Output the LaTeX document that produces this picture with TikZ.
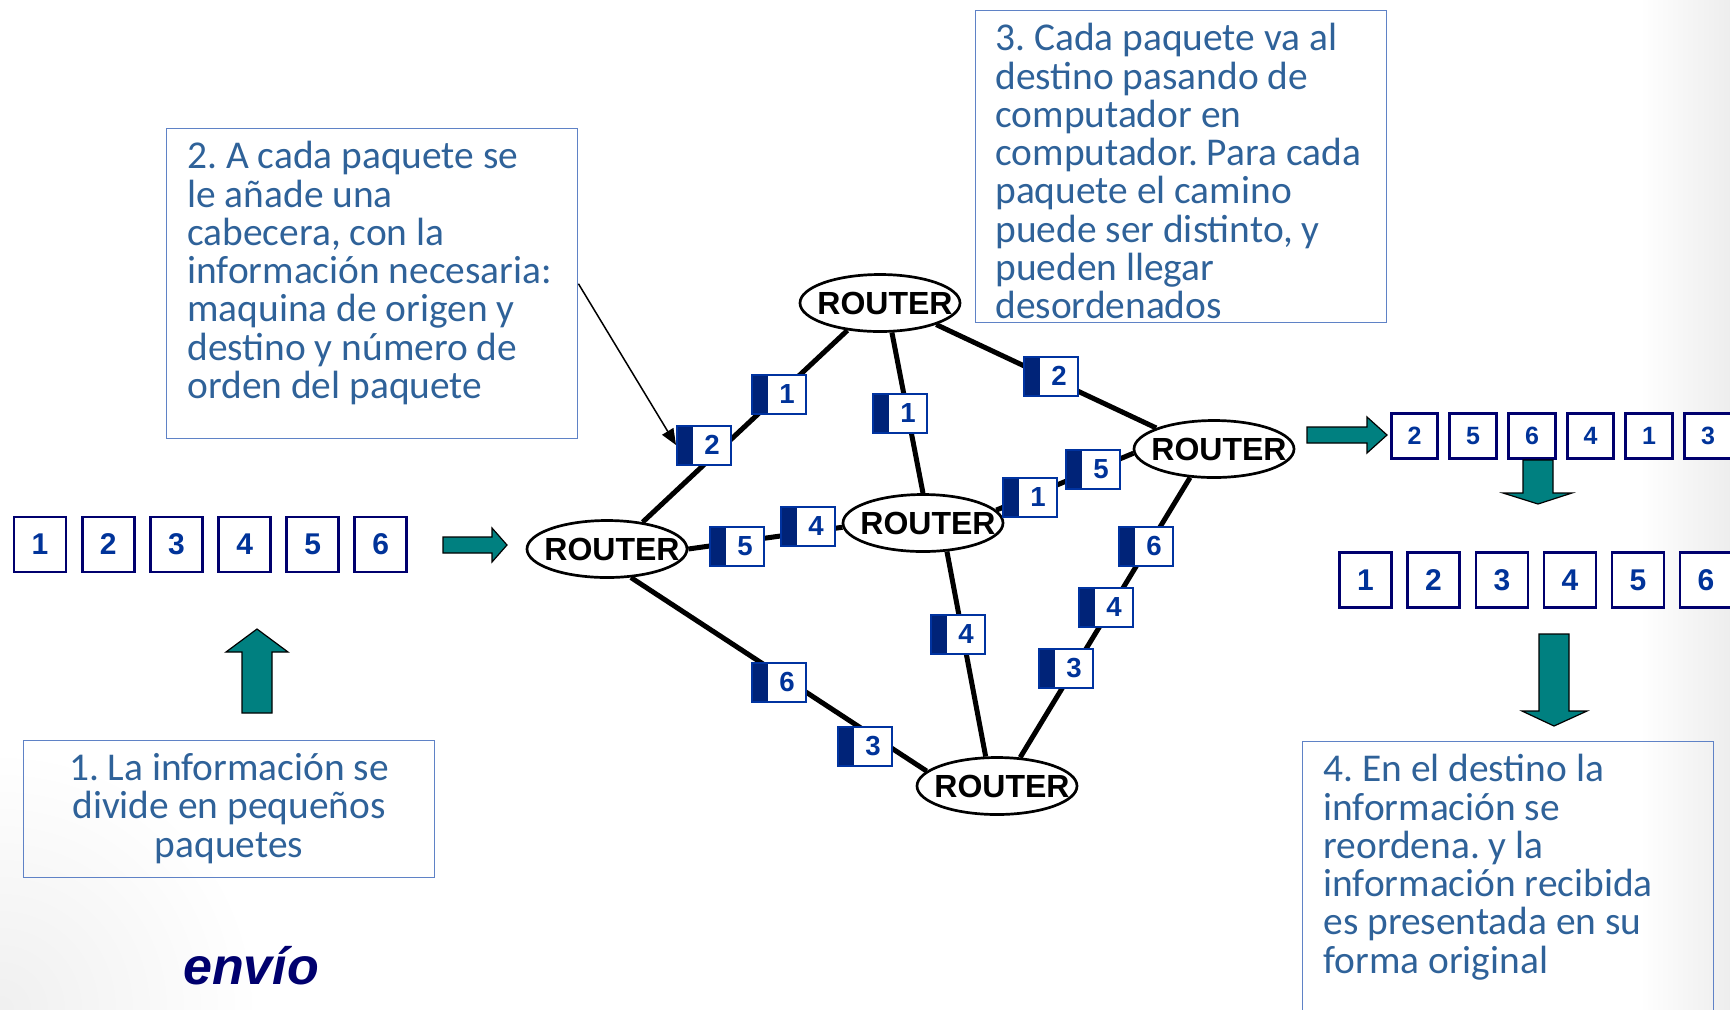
\documentclass[tikz,border=0pt]{standalone}
\usepackage{fontspec}
\setmainfont{Carlito}
\newfontfamily\arialf{Liberation Sans}
\usetikzlibrary{shapes.geometric,arrows.meta,backgrounds}
\definecolor{txtblue}{RGB}{47,98,153}
\definecolor{boxblue}{RGB}{95,130,198}
\definecolor{navyc}{RGB}{0,0,110}
\definecolor{digitc}{RGB}{0,51,153}
\definecolor{pktborder}{RGB}{0,51,160}
\definecolor{pktbar}{RGB}{0,35,120}
\definecolor{tealc}{RGB}{0,128,128}
\frenchspacing
\begin{document}
\begin{tikzpicture}[x=0.5pt,y=-0.5pt,
  txtbox/.style={draw=boxblue, line width=0.7pt, rectangle, inner sep=0pt, anchor=north west},
  note/.style={text=txtblue, font=\fontsize{19.7pt}{19.15pt}\selectfont, inner sep=0pt, align=left, anchor=north west},
  bigpkt/.style={draw=navyc, line width=1.4pt, fill=white, rectangle, minimum width=26pt, minimum height=27.5pt, inner sep=0pt, text=digitc, font=\arialf\bfseries\fontsize{15pt}{15pt}\selectfont},
  rpkt/.style={bigpkt, minimum width=23.2pt, minimum height=22.7pt, font=\arialf\bfseries\fontsize{12.5pt}{12.5pt}\selectfont},
  spkt/.style={draw=pktborder, line width=1pt, fill=white, rectangle, minimum width=27pt, minimum height=19.5pt, inner sep=0pt, text=digitc, font=\arialf\bfseries\fontsize{13.8pt}{13.8pt}\selectfont,
    path picture={\fill[pktbar] (path picture bounding box.south west) rectangle ([xshift=8pt]path picture bounding box.north west);}},
  router/.style={ellipse, draw=black, line width=1.35pt, fill=white, minimum width=80pt, minimum height=28.5pt, inner sep=0pt, font=\arialf\bfseries\fontsize{16pt}{16pt}\selectfont},
  link/.style={line width=2.5pt, black},
  blockarrow/.style={fill=tealc, draw=black, line width=0.6pt}
]
\useasboundingbox (0,0) rectangle (1730,1009);
\newcommand{\rtxt}{\raisebox{-3pt}{\makebox[0pt]{\hspace*{5pt}ROUTER}}}

% text boxes
\node[txtbox, minimum width=205.5pt, minimum height=68.5pt] (b1) at (23,740) {};
\node[text=txtblue, font=\fontsize{19.7pt}{19.15pt}\selectfont, inner sep=0pt, align=center, anchor=north] (t1) at (229,753) {1. La información se\\divide en pequeños\\paquetes};

\node[txtbox, minimum width=205.5pt, minimum height=155pt] (b2) at (166,128) {};
\node[note] (t2) at (187,141) {2. A cada paquete se\\le añade una\\cabecera, con la\\información necesaria:\\maquina de origen y\\destino y número de\\orden del paquete};

\node[txtbox, minimum width=205.5pt, minimum height=156pt] (b3) at (975,10) {};
\node[note] (t3) at (995,23) {3. Cada paquete va al\\destino pasando de\\computador en\\computador. Para cada\\paquete el camino\\puede ser distinto, y\\pueden llegar\\desordenados};

\node[txtbox, minimum width=205.5pt, minimum height=150pt] (b4) at (1302,741) {};
\node[note] (t4) at (1323,754) {4. En el destino la\\información se\\reordena. y la\\información recibida\\es presentada en su\\forma original};

% routers
\node[router] (rA) at (607,549) {\rtxt};
\node[router] (rT) at (880,303) {\rtxt};
\node[router] (rM) at (923,523) {\rtxt};
\node[router] (rR) at (1214,449) {\rtxt};
\node[router] (rB) at (997,786) {\rtxt};

\begin{scope}[on background layer]
% subtle slide background
\shade[left color=white, right color=black!7] (1640,0) rectangle (1730,1009);
\begin{scope}
\clip (0,700) rectangle (260,1009);
\shade[inner color=black!6, outer color=white] (0,1009) circle (260);
\end{scope}
% links
\draw[link] (rA.37) -- (rT.-140);
\draw[link] (rT.-68) -- (rM.90);
\draw[link] (rT.-21) -- (rR.160);
\draw[link] (rA.0) -- (rM.183);
\draw[link] (rM.10) -- (rR.183);
\draw[link] (rR.-130) -- (rB.51);
\draw[link] (rM.-50) -- (rB.111);
\draw[link] (rA.-50) -- (rB.168);
\end{scope}

% packets in transit
\node[spkt] (p1) at (779,394) {\hspace*{8pt}1};
\node[spkt] (p2) at (704,445) {\hspace*{8pt}2};
\node[spkt] (p3) at (900,413) {\hspace*{8pt}1};
\node[spkt] (p4) at (808,526) {\hspace*{8pt}4};
\node[spkt] (p5) at (737,546) {\hspace*{8pt}5};
\node[spkt] (p6) at (1030,497) {\hspace*{8pt}1};
\node[spkt] (p7) at (1093,469) {\hspace*{8pt}5};
\node[spkt] (p8) at (1146,546) {\hspace*{8pt}6};
\node[spkt] (p9) at (1106,607) {\hspace*{8pt}4};
\node[spkt] (p10) at (1066,668) {\hspace*{8pt}3};
\node[spkt] (p11) at (958,634) {\hspace*{8pt}4};
\node[spkt] (p12) at (1051,376) {\hspace*{8pt}2};
\node[spkt] (p13) at (779,682) {\hspace*{8pt}6};
\node[spkt] (p14) at (865,746) {\hspace*{8pt}3};

% annotation arrow
\draw[line width=0.75pt, -{Triangle[length=8pt,width=6.5pt]}] (b2.east) -- (p2.west);

% source packets
\foreach \n/\x in {1/40,2/108.2,3/176.5,4/244.8,5/312.8,6/380.8}
  \node[bigpkt] (s\n) at (\x,544.5) {\n};

% received packets (out of order)
\foreach \n/\d/\x in {1/2/1414.5,2/5/1473,3/6/1532,4/4/1590.5,5/1/1649,6/3/1708}
  \node[rpkt] (r\n) at (\x,436) {\d};

% reordered packets
\foreach \n/\x in {1/1365.5,2/1433.5,3/1502,4/1570,5/1638,6/1706}
  \node[bigpkt] (o\n) at (\x,580) {\n};

% block arrows
\filldraw[blockarrow] (443,537) -- (492,537) -- (492,528) -- (507,545) -- (492,562) -- (492,553) -- (443,553) -- cycle;
\filldraw[blockarrow] (242,713) -- (242,652) -- (226,652) -- (257,629) -- (288,652) -- (272,652) -- (272,713) -- cycle;
\filldraw[blockarrow] (1307,427) -- (1367,427) -- (1367,417) -- (1387,435) -- (1367,453) -- (1367,443) -- (1307,443) -- cycle;
\filldraw[blockarrow] (1523,460) -- (1553,460) -- (1553,493) -- (1572,493) -- (1538,504) -- (1503,493) -- (1523,493) -- cycle;
\filldraw[blockarrow] (1539,634) -- (1569,634) -- (1569,711) -- (1587,711) -- (1554,726) -- (1522,711) -- (1539,711) -- cycle;

% label
\node[anchor=base, inner sep=0pt, text=navyc, font=\arialf\bfseries\itshape\fontsize{26pt}{26pt}\selectfont] (envio) at (251,984) {envío};
\end{tikzpicture}
\end{document}
